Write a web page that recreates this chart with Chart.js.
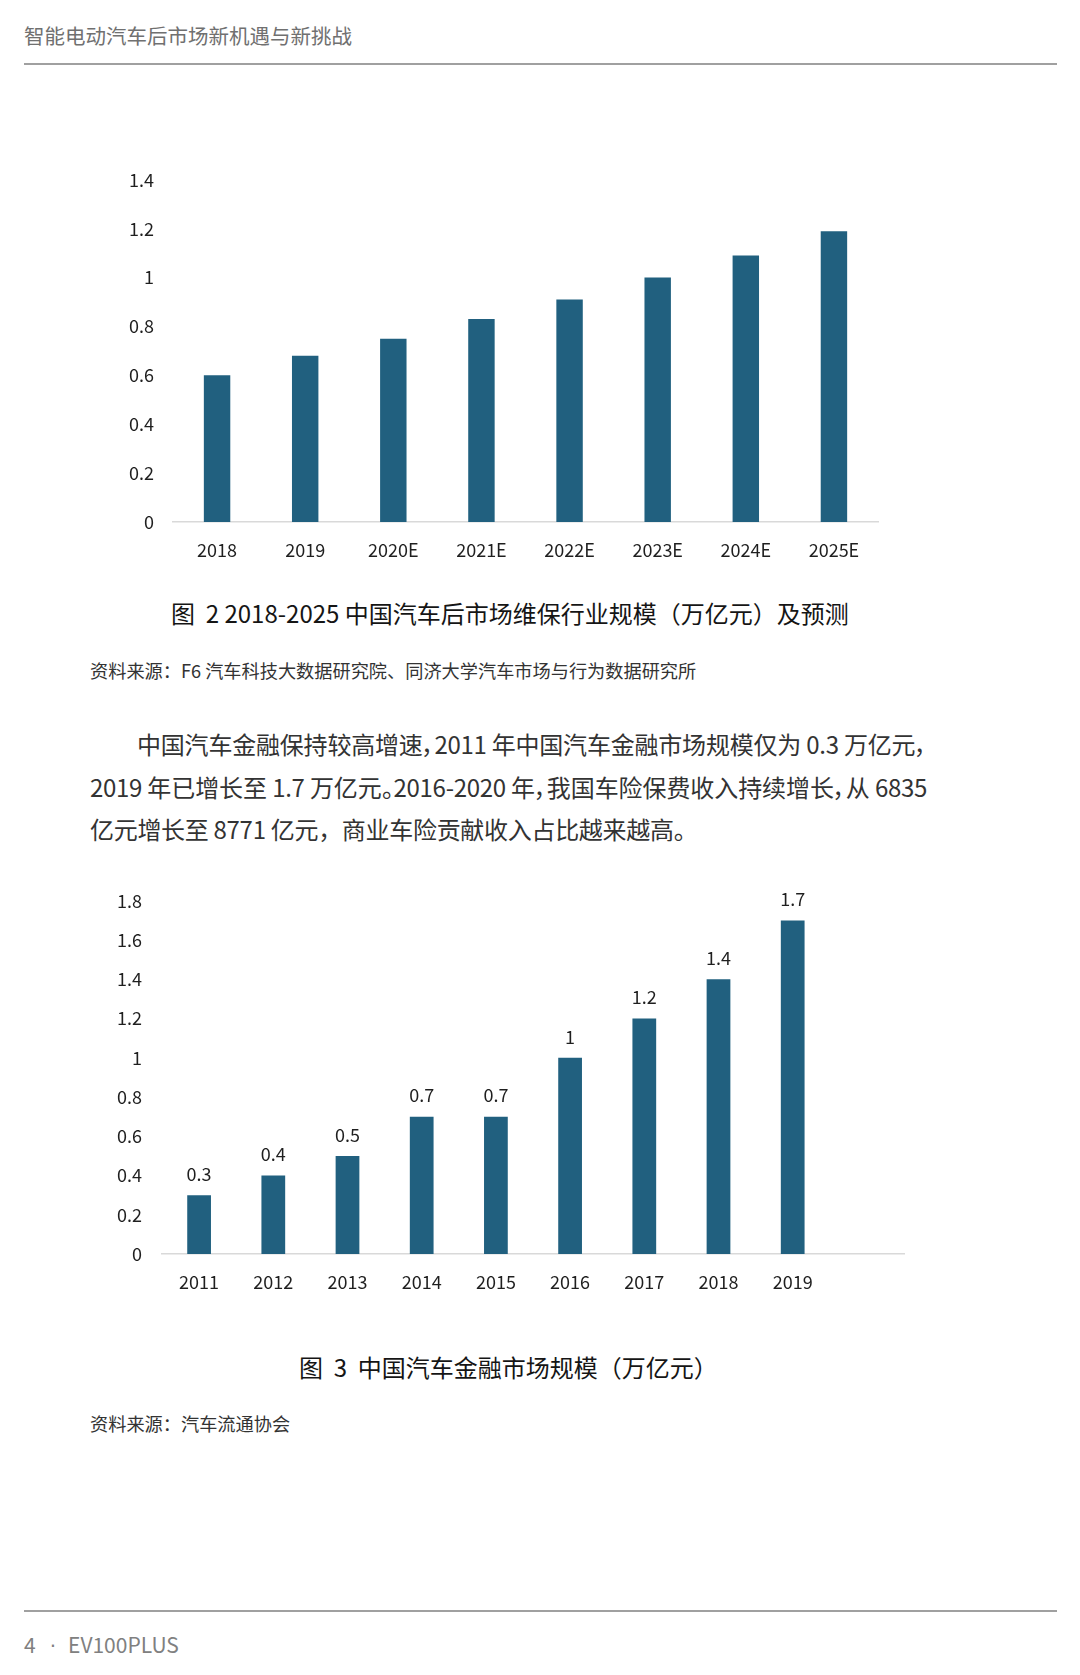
<!DOCTYPE html>
<html>
<head>
<meta charset="utf-8">
<script src="https://cdn.jsdelivr.net/npm/chart.js@4.4.1/dist/chart.umd.min.js"></script>
<style>
  html, body { margin: 0; padding: 0; background: #fff; }
  body { width: 1080px; height: 1675px; position: relative; overflow: hidden;
         font-family: 'Noto Sans CJK SC', 'Noto Sans', sans-serif; }
  .abs { position: absolute; white-space: nowrap; }
  .rule { position: absolute; left: 24px; width: 1033px; height: 2px; background: #a0a0a0; }
  .para { position: absolute; left: 90px; width: 837px; font-size: 24px; line-height: 42px;
          letter-spacing: -0.3px; color: #333; text-align: justify; text-align-last: justify;
          white-space: nowrap; font-feature-settings: "palt"; }
  .para.last { text-align-last: left; font-feature-settings: normal; }
  canvas { position: absolute; }
</style>
</head>
<body>
<div class="abs" style="left:24px;top:23px;font-size:20.5px;line-height:24px;color:#707070;">智能电动汽车后市场新机遇与新挑战</div>
<div class="rule" style="top:63px;"></div>

<canvas id="chart1" width="800" height="442" style="left:100px;top:150px;"></canvas>

<div class="abs" style="left:171px;top:597px;font-size:24px;line-height:32px;color:#151515;">图&nbsp; 2 2018-2025 中国汽车后市场维保行业规模（万亿元）及预测</div>
<div class="abs" style="left:90px;top:658px;font-size:18.2px;line-height:24px;color:#333;">资料来源：F6 汽车科技大数据研究院、同济大学汽车市场与行为数据研究所</div>

<div class="para" style="top:723px;padding-left:47px;width:790px;">中国汽车金融保持较高增速，2011 年中国汽车金融市场规模仅为 0.3 万亿元，</div>
<div class="para" style="top:766px;">2019 年已增长至 1.7 万亿元。2016-2020 年，我国车险保费收入持续增长，从 6835</div>
<div class="para last" style="top:808px;">亿元增长至 8771 亿元，商业车险贡献收入占比越来越高。</div>

<canvas id="chart2" width="820" height="454" style="left:100px;top:870px;"></canvas>

<div class="abs" style="left:299px;top:1351px;font-size:24px;line-height:32px;color:#151515;">图&nbsp; 3&nbsp; 中国汽车金融市场规模（万亿元）</div>
<div class="abs" style="left:90px;top:1411px;font-size:18.2px;line-height:24px;color:#333;">资料来源：汽车流通协会</div>

<div class="rule" style="top:1610px;"></div>
<div class="abs" style="left:24px;top:1631px;font-size:21px;line-height:26px;color:#808080;">4<span style="font-family:'DejaVu Sans';font-size:20px;margin:0 12px 0 14px;">·</span>EV100PLUS</div>

<script>
// figure 2: aftermarket maintenance scale (万亿元)
const years1 = ['2018', '2019', '2020E', '2021E', '2022E', '2023E', '2024E', '2025E'];
const values1 = [0.6, 0.68, 0.75, 0.83, 0.91, 1.0, 1.09, 1.19];
const yTicks1 = ['0', '0.2', '0.4', '0.6', '0.8', '1', '1.2', '1.4'];

// figure 3: auto finance market scale (万亿元), last category left empty like the original
const years2 = ['2011', '2012', '2013', '2014', '2015', '2016', '2017', '2018', '2019', ''];
const values2 = [0.3, 0.4, 0.5, 0.7, 0.7, 1, 1.2, 1.4, 1.7];
const yTicks2 = ['0', '0.2', '0.4', '0.6', '0.8', '1', '1.2', '1.4', '1.6', '1.8'];

const BAR = '#21607f';
const AXIS = '#d9d9d9';
const TEXT = '#1f1f1f';
const FONT = { family: "'Noto Sans CJK SC', 'Noto Sans', sans-serif", size: 18 };

const barLabels = {
  id: 'barLabels',
  afterDatasetsDraw(chart, args, opts) {
    if (!opts.show) return;
    const ctx = chart.ctx;
    const data = chart.data.datasets[0].data;
    ctx.save();
    ctx.font = FONT.size + 'px ' + FONT.family;
    ctx.fillStyle = TEXT;
    ctx.textAlign = 'center';
    ctx.textBaseline = 'middle';
    chart.getDatasetMeta(0).data.forEach((bar, i) => {
      if (data[i] == null) return;
      ctx.fillText(String(data[i]), bar.x, bar.y - 21);
    });
    ctx.restore();
  }
};

function makeChart(id, labels, values, tickLabels, yMax, opt) {
  return new Chart(document.getElementById(id), {
    type: 'bar',
    data: {
      labels: labels,
      datasets: [{
        data: values,
        backgroundColor: BAR,
        categoryPercentage: 1,
        barPercentage: opt.barPct,
      }],
    },
    options: {
      responsive: false,
      animation: false,
      devicePixelRatio: 1,
      layout: { padding: { top: opt.top, right: opt.right, left: 0, bottom: 0 } },
      plugins: {
        legend: { display: false },
        tooltip: { enabled: false },
        barLabels: { show: opt.labels },
      },
      scales: {
        x: {
          grid: { display: false },
          border: { display: true, color: AXIS, width: 1.5 },
          ticks: { color: TEXT, font: FONT, padding: 9, maxRotation: 0, autoSkip: false },
          afterFit: (s) => { s.height = 70; },
        },
        y: {
          min: 0,
          max: yMax,
          grid: { display: false, drawTicks: false },
          border: { display: false },
          ticks: {
            stepSize: 0.2,
            color: TEXT,
            font: FONT,
            padding: opt.tickPad,
            callback: (v, i) => tickLabels[i],
          },
          afterFit: (s) => { s.width = opt.yWidth; },
        },
      },
    },
    plugins: [barLabels],
  });
}

makeChart('chart1', years1, values1, yTicks1, 1.4,
  { barPct: 0.30, top: 9, right: 22, yWidth: 73, tickPad: 19, labels: false });
makeChart('chart2', years2, values2, yTicks2, 1.8,
  { barPct: 0.32, top: 10, right: 16, yWidth: 62, tickPad: 20, labels: true });
</script>
</body>
</html>
